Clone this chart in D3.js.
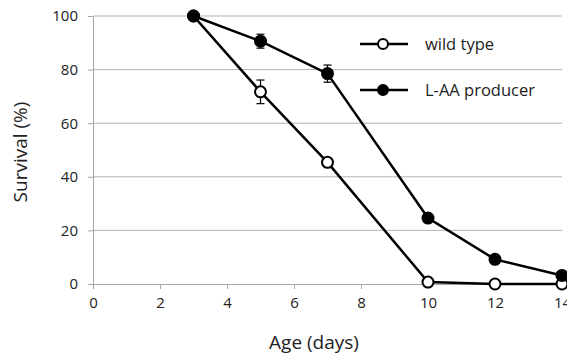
<!DOCTYPE html>
<html>
<head>
<meta charset="utf-8">
<script src="https://cdn.jsdelivr.net/npm/d3@7"></script>
<style>
  html, body { margin: 0; padding: 0; background: #fff; }
  svg { display: block; font-family: "Open Sans", "Noto Sans", sans-serif; }
</style>
</head>
<body>
<svg id="chart" width="567" height="355"></svg>
<script>
// Survival over time for two strains
const ages = [3, 5, 7, 10, 12, 14];
const wildType = [100, 71.7, 45.4, 0.7, 0, 0];
const wildTypeErr = [0, 4.4, 0, 0, 0, 0];
const producer = [100, 90.6, 78.5, 24.6, 9.2, 3.2];
const producerErr = [0, 2.6, 3.2, 0, 0, 0];
const xTicks = [0, 2, 4, 6, 8, 10, 12, 14];
const yTicks = [0, 20, 40, 60, 80, 100];
const seriesNames = ["wild type", "L-AA producer"];

const svg = d3.select("#chart");
const x = d3.scaleLinear().domain([0, 14]).range([93, 562]);
const y = d3.scaleLinear().domain([0, 100]).range([284, 16]);

// horizontal grid
svg.append("g").selectAll("line").data(yTicks.filter(d => d > 0)).join("line")
  .attr("x1", x(0)).attr("x2", x(14))
  .attr("y1", d => y(d)).attr("y2", d => y(d))
  .attr("stroke", "#b3b3b3").attr("stroke-width", 1);

// y axis
const yAxis = svg.append("g").attr("transform", `translate(${x(0)},0)`)
  .call(d3.axisLeft(y).tickValues(yTicks).tickSize(5).tickPadding(10));
// x axis
const xAxis = svg.append("g").attr("transform", `translate(0,${y(0)})`)
  .call(d3.axisBottom(x).tickValues(xTicks).tickSize(5).tickPadding(8));

[yAxis, xAxis].forEach(g => {
  g.select(".domain").attr("stroke", "#a6a6a6");
  g.selectAll(".tick line").attr("stroke", "#a6a6a6");
  g.selectAll(".tick text").attr("fill", "#222").style("font-size", "15px")
    .style("font-family", "'Open Sans', sans-serif");
});

// axis titles
svg.append("text").attr("x", 314).attr("y", 349).attr("text-anchor", "middle")
  .style("font-size", "19px").attr("fill", "#222").text("Age (days)");
svg.append("text").attr("transform", `translate(27,152) rotate(-90)`)
  .attr("text-anchor", "middle").style("font-size", "19px").attr("fill", "#222")
  .text("Survival (%)");

const line = d3.line().x(d => x(d[0])).y(d => y(d[1]));

function drawSeries(vals, errs, fill) {
  const pts = ages.map((a, i) => [a, vals[i], errs[i]]);
  svg.append("path").datum(pts).attr("d", line)
    .attr("fill", "none").attr("stroke", "#000").attr("stroke-width", 2.5);
  const eb = svg.append("g").selectAll("g").data(pts.filter(p => p[2] > 0)).join("g");
  eb.append("line").attr("x1", d => x(d[0])).attr("x2", d => x(d[0]))
    .attr("y1", d => y(d[1] + d[2])).attr("y2", d => y(d[1] - d[2]))
    .attr("stroke", "#000").attr("stroke-width", 1.2);
  [1, -1].forEach(s => {
    eb.append("line").attr("x1", d => x(d[0]) - 4).attr("x2", d => x(d[0]) + 4)
      .attr("y1", d => y(d[1] + s * d[2])).attr("y2", d => y(d[1] + s * d[2]))
      .attr("stroke", "#000").attr("stroke-width", 1.2);
  });
  svg.append("g").selectAll("circle").data(pts).join("circle")
    .attr("cx", d => x(d[0])).attr("cy", d => y(d[1])).attr("r", 5.5)
    .attr("fill", fill).attr("stroke", "#000").attr("stroke-width", 2);
}

drawSeries(wildType, wildTypeErr, "#fff");
drawSeries(producer, producerErr, "#000");

// legend
const legend = svg.append("g").selectAll("g").data(seriesNames).join("g")
  .attr("transform", (d, i) => `translate(360,${44 + i * 46})`);
legend.append("line").attr("x1", 0).attr("x2", 48)
  .attr("stroke", "#000").attr("stroke-width", 2.5);
legend.append("circle").attr("cx", 23).attr("r", 5)
  .attr("fill", (d, i) => i === 0 ? "#fff" : "#000")
  .attr("stroke", "#000").attr("stroke-width", 2);
legend.append("text").attr("x", 65).attr("dy", "0.35em")
  .style("font-size", "16.5px").attr("fill", "#222").text(d => d);
</script>
</body>
</html>
